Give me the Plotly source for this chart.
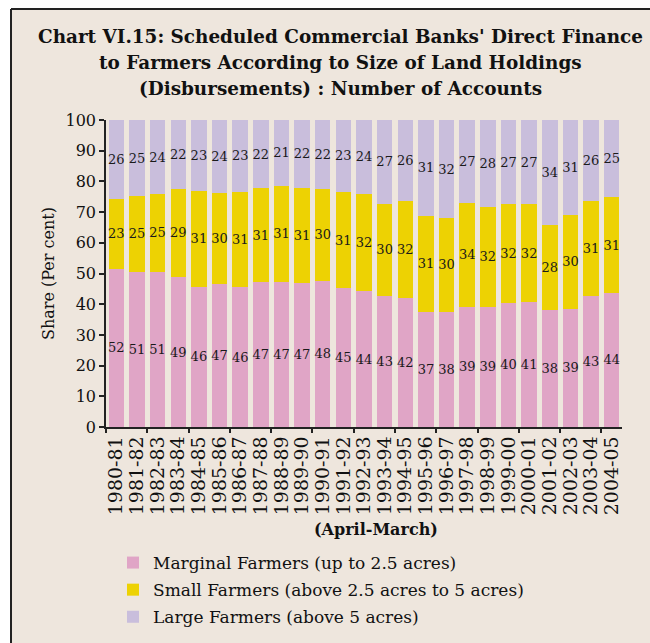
import plotly.graph_objects as go

years = ["1980-81", "1981-82", "1982-83", "1983-84", "1984-85", "1985-86", "1986-87",
         "1987-88", "1988-89", "1989-90", "1990-91", "1991-92", "1992-93", "1993-94",
         "1994-95", "1995-96", "1996-97", "1997-98", "1998-99", "1999-00", "2000-01",
         "2001-02", "2002-03", "2003-04", "2004-05"]

marginal = [51.6, 50.6, 50.6, 48.8, 45.7, 46.6, 45.6, 47.1, 47.2, 47.0, 47.6, 45.2, 44.3,
            42.6, 41.9, 37.4, 37.6, 39.2, 39.2, 40.4, 40.7, 38.2, 38.6, 42.6, 43.7]
small = [22.6, 24.6, 25.2, 28.8, 31.2, 29.6, 31.0, 30.6, 31.4, 31.0, 30.0, 31.4, 31.7,
         30.2, 31.7, 31.4, 30.4, 33.8, 32.4, 32.2, 31.9, 27.6, 30.3, 31.0, 31.1]
large = [25.8, 24.8, 24.2, 22.4, 23.1, 23.8, 23.4, 22.3, 21.4, 22.0, 22.4, 23.4, 24.0,
         27.2, 26.4, 31.2, 32.0, 27.0, 28.4, 27.4, 27.4, 34.2, 31.1, 26.4, 25.2]

series_names = ["Marginal Farmers (up to 2.5 acres)",
                "Small Farmers (above 2.5 acres to 5 acres)",
                "Large Farmers (above 5 acres)"]
title_lines = ["Chart VI.15: Scheduled Commercial Banks' Direct Finance",
               "to Farmers According to Size of Land Holdings",
               "(Disbursements) : Number of Accounts"]
colors = ["#E0A5C6", "#EDD203", "#C9BEDC"]

BG = "#EEE6DD"
SERIF = "DejaVu Serif"

fig = go.Figure()
for i, (name, vals) in enumerate(zip(series_names, [marginal, small, large])):
    fig.add_trace(go.Bar(
        x=years, y=vals, name=name, legendgroup=f"g{i}",
        marker=dict(color=colors[i], line=dict(width=0)),
        texttemplate="%{y:.0f}", textposition="inside",
        insidetextanchor="middle", textangle=0,
        textfont=dict(family=SERIF, size=13, color="#1a1a1a"),
    ))

# empty helper trace so the tick-only overlay axis gets drawn
fig.add_trace(go.Scatter(x=[], y=[], xaxis="x2", yaxis="y", showlegend=False,
                         hoverinfo="skip", mode="markers"))

title_y = [1.2704, 1.1857, 1.1010]
annotations = [
    dict(text=f"<b>{t}</b>", xref="paper", yref="paper", x=0.4535, y=ty,
         xanchor="center", yanchor="middle", showarrow=False,
         font=dict(family=SERIF, size=18.4, color="#111"))
    for t, ty in zip(title_lines, title_y)
]
annotations.append(dict(
    text="<b>(April-March)</b>", xref="paper", yref="paper", x=0.523, y=-0.3355,
    xanchor="center", yanchor="middle", showarrow=False,
    font=dict(family=SERIF, size=16, color="#111")))

fig.update_layout(
    width=650, height=643,
    barmode="stack", bargap=0.25,
    paper_bgcolor="white", plot_bgcolor="rgba(0,0,0,0)",
    margin=dict(l=106, r=28, t=120, b=216, autoexpand=False),
    uniformtext=dict(minsize=13, mode="show"),
    font=dict(family=SERIF, color="#111"),
    annotations=annotations,
    showlegend=True,
    legend=dict(
        orientation="v", x=0.0136, xanchor="left", y=-0.3844, yanchor="top",
        traceorder="grouped", tracegroupgap=2,
        font=dict(family=SERIF, size=17, color="#111"),
        bgcolor="rgba(0,0,0,0)",
    ),
    xaxis=dict(
        type="category", showline=True, linecolor="#222", linewidth=1.5,
        tickmode="linear", tick0=0, dtick=1,
        ticks="", tickangle=-90, tickfont=dict(family=SERIF, size=19, color="#111"),
        showgrid=False, zeroline=False,
    ),
    xaxis2=dict(
        overlaying="x", anchor="y", range=[-0.5, len(years) - 0.5],
        tickmode="linear", tick0=-0.5, dtick=2, ticks="outside", ticklen=5,
        tickcolor="#222", tickwidth=1.5, showticklabels=False, showline=False,
        showgrid=False, zeroline=False, side="bottom",
    ),
    yaxis=dict(
        range=[0, 100], dtick=10, showline=True, linecolor="#222", linewidth=1.5,
        ticks="outside", ticklen=5, tickcolor="#222", tickwidth=1.5,
        tickfont=dict(family=SERIF, size=16, color="#111"),
        title=dict(text="Share (Per cent)", font=dict(family=SERIF, size=16, color="#111"),
                   standoff=7),
        showgrid=False, zeroline=False,
    ),
    shapes=[
        dict(type="rect", xref="paper", yref="paper", layer="below",
             x0=-0.1841, x1=1.3, y0=-0.9, y1=1.3616,
             fillcolor=BG, line=dict(width=0)),
        dict(type="line", xref="paper", yref="paper", layer="below",
             x0=-0.1841, x1=-0.1841, y0=-0.9, y1=1.3616,
             line=dict(color="#222", width=2)),
        dict(type="line", xref="paper", yref="paper", layer="below",
             x0=-0.1841, x1=1.3, y0=1.3616, y1=1.3616,
             line=dict(color="#222", width=2)),
    ],
)

fig.write_html("out.html", config={"displayModeBar": False},
               post_script="document.body.style.margin='0';")
